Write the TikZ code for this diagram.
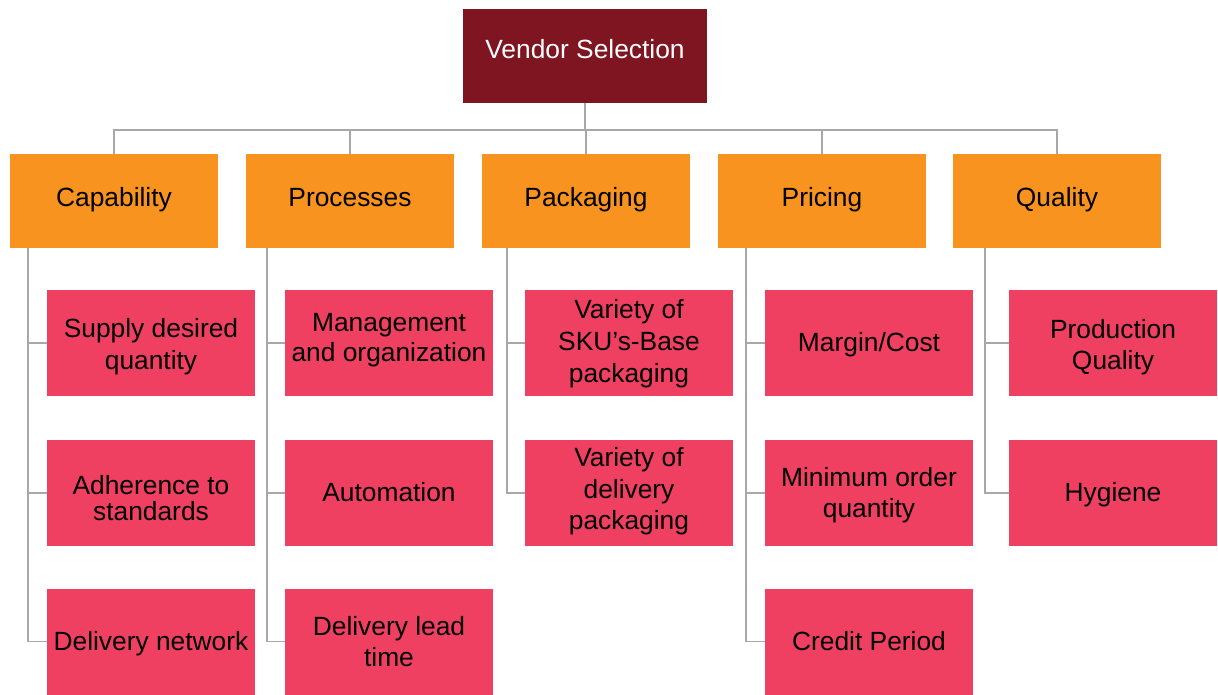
\documentclass[tikz,border=0pt]{standalone}
\usepackage{fontspec}
\setmainfont{Liberation Sans}
\usetikzlibrary{positioning}

\definecolor{rootred}{HTML}{7F1520}
\definecolor{catorange}{HTML}{F7931E}
\definecolor{itempink}{HTML}{EF4062}
\definecolor{linkgray}{HTML}{A8A8A8}

\begin{document}
\begin{tikzpicture}[
  x=0.02cm, y=-0.02cm,
  box/.style={inner sep=0pt, align=center, font=\fontsize{15}{18}\selectfont, text height=11pt},
  root/.style={box, fill=rootred, text=white, minimum width=4.88cm, minimum height=1.88cm, text depth=8.7pt},
  category/.style={box, fill=catorange, minimum width=4.16cm, minimum height=1.88cm, text depth=4.2pt},
  item/.style={box, fill=itempink, minimum width=4.16cm, minimum height=2.12cm, text depth=1pt},
  tall/.style={text height=#1},
  link/.style={draw=linkgray, line width=0.9pt}
]

\useasboundingbox (0,0) rectangle (1218,694);

% Root
\node[root] (vendor) at (585, 56) {Vendor Selection};

% Categories
\node[category] (capability) at (114, 201) {Capability};
\node[category] (processes) at (350, 201) {Processes};
\node[category] (packaging) at (586, 201) {Packaging};
\node[category] (pricing) at (822, 201) {Pricing};
\node[category] (quality) at (1057, 201) {Quality};

% Items (top-down per column)
\node[item, tall=30.6pt] (supply) at (151, 343) {Supply desired\\quantity};
\node[item, tall=32.8pt, font=\fontsize{15}{15.3}\selectfont] (adherence) at (151, 493) {Adherence to\\standards};
\node[item] (network) at (151, 641.5) {Delivery network};

\node[item, tall=21.5pt, font=\fontsize{15}{17}\selectfont] (management) at (389, 343) {Management\\and organization};
\node[item] (automation) at (389, 493) {Automation};
\node[item, tall=30pt] (leadtime) at (389, 641.5) {Delivery lead\\time};

\node[item, tall=45.4pt] (skupack) at (629, 343) {Variety of\\SKU’s-Base\\packaging};
\node[item, tall=43pt] (delpack) at (629, 493) {Variety of\\delivery\\packaging};

\node[item] (margin) at (869, 343) {Margin/Cost};
\node[item, tall=29.4pt] (minorder) at (869, 493) {Minimum order\\quantity};
\node[item] (credit) at (869, 641.5) {Credit Period};

\node[item, tall=31.7pt] (prodquality) at (1113, 343) {Production\\Quality};
\node[item] (hygiene) at (1113, 493) {Hygiene};

% Root to categories
\coordinate (bus) at (585, 130);
\draw[link] (vendor.south) -- (bus);
\draw[link] (capability.north) |- (bus) -| (quality.north);
\draw[link] (processes.north) -- (processes.north |- bus);
\draw[link] (packaging.north) -- (packaging.north |- bus);
\draw[link] (pricing.north) -- (pricing.north |- bus);

% Categories to items
\coordinate (capline) at (28, 248);
\coordinate (proline) at (267, 248);
\coordinate (pakline) at (507, 248);
\coordinate (priline) at (746, 248);
\coordinate (qualine) at (985, 248);

\draw[link] (capline) |- (network.west);
\draw[link] (capline |- supply.west) -- (supply.west);
\draw[link] (capline |- adherence.west) -- (adherence.west);

\draw[link] (proline) |- (leadtime.west);
\draw[link] (proline |- management.west) -- (management.west);
\draw[link] (proline |- automation.west) -- (automation.west);

\draw[link] (pakline) |- (delpack.west);
\draw[link] (pakline |- skupack.west) -- (skupack.west);

\draw[link] (priline) |- (credit.west);
\draw[link] (priline |- margin.west) -- (margin.west);
\draw[link] (priline |- minorder.west) -- (minorder.west);

\draw[link] (qualine) |- (hygiene.west);
\draw[link] (qualine |- prodquality.west) -- (prodquality.west);

\end{tikzpicture}
\end{document}
